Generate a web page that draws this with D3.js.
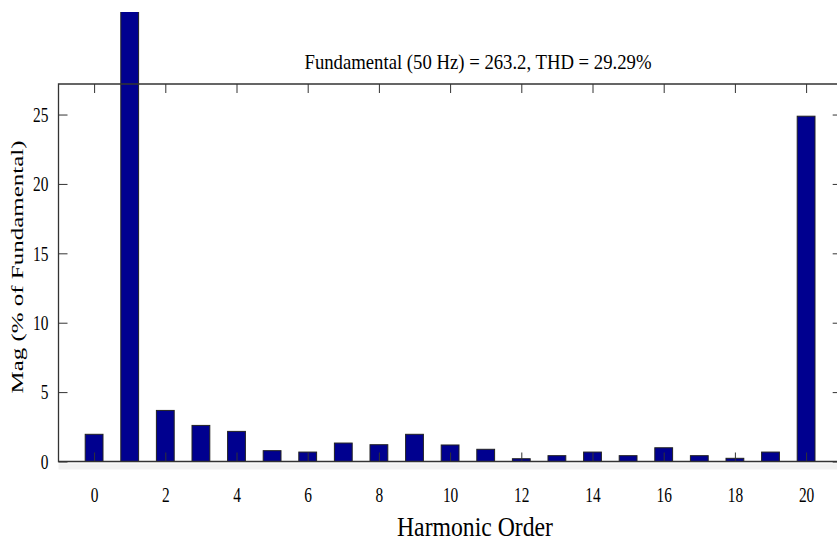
<!DOCTYPE html>
<html>
<head>
<meta charset="utf-8">
<script src="https://cdn.jsdelivr.net/npm/d3@7"></script>
<style>
  body { margin: 0; background: #fff; }
  text { font-family: "Liberation Serif", "Times New Roman", serif; fill: #000; }
</style>
</head>
<body>
<script>
var w = 837;
var h = 547;

//Data
var harmonics = d3.range(0, 21);
var magnitudes = [1.96, 100, 3.68, 2.6, 2.17, 0.78, 0.68, 1.33, 1.21, 1.96, 1.19,
                  0.88, 0.2, 0.42, 0.68, 0.42, 0.99, 0.42, 0.23, 0.68, 24.88];
var xTicks = [0, 2, 4, 6, 8, 10, 12, 14, 16, 18, 20];
var yTicks = [0, 5, 10, 15, 20, 25];
var titleText = "Fundamental (50 Hz) = 263.2, THD = 29.29%";
var xLabel = "Harmonic Order";
var yLabel = "Mag (% of Fundamental)";

//Plot box
var plotL = 58.5, plotR = 841.7, plotT = 84, plotB = 461.5;
var tickLen = 9;

var x = d3.scaleLinear().domain([-1, 21]).range([plotL, plotR]);
var y = d3.scaleLinear().domain([0, 27.2]).range([plotB, plotT]);
var barW = (x(1) - x(0)) * 0.5;

var svg = d3.select("body")
            .append("svg")
            .attr("width", w)
            .attr("height", h);

//faint strip under the axis, as in the screenshot
svg.append("rect")
   .attr("x", plotL).attr("y", plotB + 2)
   .attr("width", w - plotL).attr("height", 6)
   .attr("fill", "#f1f1f1");

//clip so the fundamental bar stops at the top of the picture
svg.append("clipPath").attr("id", "clip")
   .append("rect").attr("x", 0).attr("y", 12).attr("width", w).attr("height", h);

//Bars
svg.append("g")
   .attr("clip-path", "url(#clip)")
   .selectAll("rect")
   .data(harmonics)
   .enter()
   .append("rect")
   .attr("x", function(d) { return x(d) - barW / 2; })
   .attr("y", function(d, i) { return y(magnitudes[i]); })
   .attr("width", barW)
   .attr("height", function(d, i) { return plotB - y(magnitudes[i]); })
   .attr("fill", "#00008f")
   .attr("stroke", "#222")
   .attr("stroke-width", 1);

//Axes (MATLAB style, ticks inside)
var xAxisB = d3.axisBottom(x).tickValues(xTicks).tickSize(-tickLen).tickPadding(26).tickSizeOuter(0);
var xAxisT = d3.axisTop(x).tickValues(xTicks).tickSize(-tickLen).tickFormat("").tickSizeOuter(0);
var yAxisL = d3.axisLeft(y).tickValues(yTicks).tickSize(-tickLen).tickPadding(10).tickSizeOuter(0);
var yAxisR = d3.axisRight(y).tickValues(yTicks).tickSize(-tickLen).tickFormat("").tickSizeOuter(0);

function styleAxis(g) {
  g.select(".domain").remove();
  g.selectAll("line").attr("stroke", "#333");
  g.selectAll("text")
   .attr("fill", "#000")
   .style("font-family", "'Liberation Serif', serif")
   .style("font-size", "21px")
   .attr("lengthAdjust", "spacingAndGlyphs")
   .attr("textLength", function() { return this.textContent.length * 7.7; });
}

svg.append("g").attr("transform", "translate(0," + plotB + ")").call(xAxisB).call(styleAxis);
svg.append("g").attr("transform", "translate(0," + plotT + ")").call(xAxisT).call(styleAxis);
svg.append("g").attr("transform", "translate(" + plotL + ",0)").call(yAxisL).call(styleAxis);
svg.append("g").attr("transform", "translate(" + plotR + ",0)").call(yAxisR).call(styleAxis);

//box lines
svg.append("path")
   .attr("d", "M" + w + "," + plotT + "H" + plotL + "V" + plotB + "H" + w)
   .attr("fill", "none").attr("stroke", "#333").attr("stroke-width", 1.3);

//Title and labels
svg.append("text")
   .attr("x", 478).attr("y", 69)
   .attr("text-anchor", "middle")
   .attr("textLength", 347).attr("lengthAdjust", "spacingAndGlyphs")
   .style("font-size", "21px")
   .text(titleText);

svg.append("text")
   .attr("x", 475).attr("y", 536)
   .attr("text-anchor", "middle")
   .attr("textLength", 156).attr("lengthAdjust", "spacingAndGlyphs")
   .style("font-size", "28px")
   .text(xLabel);

svg.append("text")
   .attr("transform", "translate(23,267) rotate(-90)")
   .attr("text-anchor", "middle")
   .attr("textLength", 253).attr("lengthAdjust", "spacingAndGlyphs")
   .style("font-size", "16px")
   .text(yLabel);
</script>
</body>
</html>
